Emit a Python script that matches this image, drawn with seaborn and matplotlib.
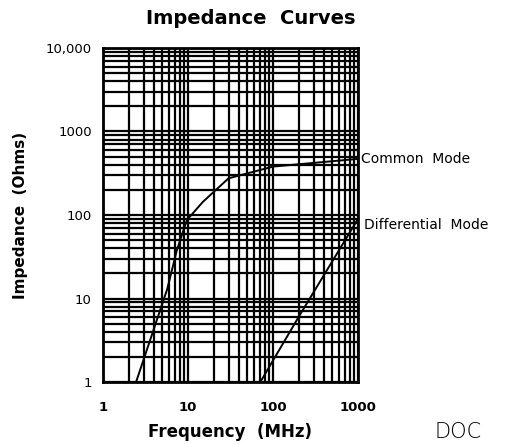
import pandas as pd
import seaborn as sns
import matplotlib.pyplot as plt
from matplotlib.ticker import LogLocator, FixedLocator, NullFormatter

# curve values (frequency in MHz, impedance in ohms)
common_freq = [2.45, 5.7, 7.4, 9.7, 15, 30, 100, 1000]
common_imp = [1, 13, 38, 87, 144, 275, 380, 470]
diff_freq = [71, 200, 1000]
diff_imp = [1, 6, 90]

x_ticks = [1, 10, 100, 1000]
x_labels = ["1", "10", "100", "1000"]
y_ticks = [1, 10, 100, 1000, 10000]
y_labels = ["1", "10", "100", "1000", "10,000"]

sns.set_style("white")
plt.rcParams['font.family'] = ['DejaVu Sans']
plt.rcParams['text.color'] = "black"
plt.rcParams['axes.labelcolor'] = "black"
plt.rcParams['xtick.color'] = "black"
plt.rcParams['ytick.color'] = "black"

df = pd.concat([
    pd.DataFrame({"freq": common_freq, "imp": common_imp, "mode": "Common Mode"}),
    pd.DataFrame({"freq": diff_freq, "imp": diff_imp, "mode": "Differential Mode"}),
])

fig = plt.figure(figsize=(5.06, 4.44), dpi=100)
ax = fig.add_axes([103 / 506, 62 / 444, 255 / 506, 334 / 444])

sns.lineplot(data=df, x="freq", y="imp", units="mode", estimator=None,
             color="black", linewidth=1.4, sort=False, ax=ax, zorder=3)

ax.set_xscale("log")
ax.set_yscale("log")
ax.set_xlim(1, 1000)
ax.set_ylim(1, 10000)

# log grid, major + minor, all heavy black lines
ax.xaxis.set_major_locator(FixedLocator(x_ticks))
ax.yaxis.set_major_locator(FixedLocator(y_ticks))
ax.xaxis.set_minor_locator(LogLocator(base=10, subs=range(2, 10)))
ax.yaxis.set_minor_locator(LogLocator(base=10, subs=range(2, 10)))
ax.xaxis.set_minor_formatter(NullFormatter())
ax.yaxis.set_minor_formatter(NullFormatter())
ax.grid(True, which="both", color="black", linewidth=1.6)
ax.set_xticks(x_ticks, x_labels)
ax.set_yticks(y_ticks, y_labels)
ax.tick_params(which="both", length=0)
ax.tick_params(axis="x", pad=14, labelsize=9.5)
ax.tick_params(axis="y", pad=8, labelsize=9.5)
for lbl in ax.get_xticklabels():
    lbl.set_fontweight("semibold")
for s in ax.spines.values():
    s.set_color("black")
    s.set_linewidth(2)

ax.set_xlabel("Frequency  (MHz)", fontsize=12, fontweight="bold", labelpad=6)
ax.set_ylabel("Impedance  (Ohms)", fontsize=11, fontweight="bold", labelpad=13)
if ax.legend_:
    ax.legend_.remove()

fig.text(251 / 506, 1 - 18 / 444, "Impedance  Curves", fontsize=14,
         fontweight="bold", ha="center", va="center")
ax.text(1.01, 470, "Common  Mode", fontsize=10, va="center", ha="left",
        transform=ax.get_yaxis_transform())
ax.text(1.025, 76, "Differential  Mode", fontsize=10, va="center", ha="left",
        transform=ax.get_yaxis_transform())
fig.text(458 / 506, 1 - 432 / 444, "DOC", fontsize=15, fontweight="light",
         ha="center", va="center")

fig.savefig("out.png", dpi=100)
